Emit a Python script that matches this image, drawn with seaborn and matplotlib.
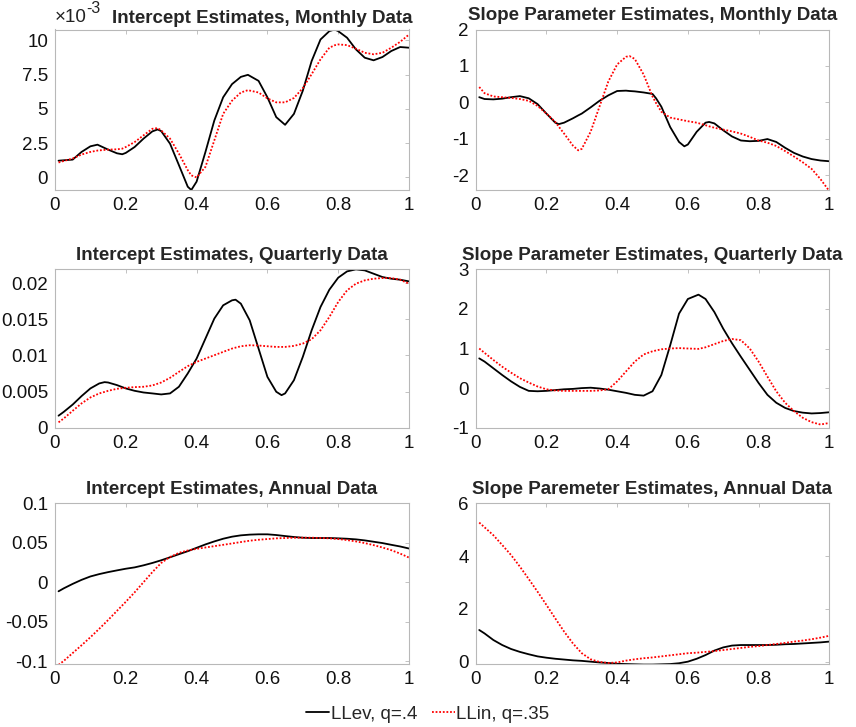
import numpy as np
import pandas as pd
import matplotlib
matplotlib.use("Agg")
import matplotlib.pyplot as plt
from matplotlib.ticker import FuncFormatter, FixedLocator
import seaborn as sns

# ---------------- data ----------------
grid = [0.01, 0.025, 0.05, 0.075, 0.1, 0.125, 0.15, 0.175, 0.2, 0.225, 0.25,
        0.275, 0.3, 0.325, 0.35, 0.375, 0.4, 0.425, 0.45, 0.475, 0.5, 0.525,
        0.55, 0.575, 0.6, 0.625, 0.65, 0.675, 0.7, 0.725, 0.75, 0.775, 0.8,
        0.825, 0.85, 0.875, 0.9, 0.925, 0.95, 0.975, 1.0]

# Intercept, monthly (units of 1e-3)
x_int_m = [0.01, 0.025, 0.05, 0.075, 0.1, 0.12, 0.15, 0.175, 0.19, 0.2, 0.225, 0.25,
           0.275, 0.29, 0.3, 0.325, 0.35, 0.375, 0.385, 0.4, 0.425, 0.45, 0.475, 0.5,
           0.525, 0.545, 0.575, 0.6, 0.625, 0.65, 0.675, 0.7, 0.725, 0.75, 0.775, 0.79,
           0.8, 0.825, 0.85, 0.875, 0.9, 0.925, 0.95, 0.975, 1.0]
llev_int_m = [1.22, 1.25, 1.3, 1.86, 2.27, 2.39, 2.03, 1.76, 1.69, 1.79, 2.22, 2.83,
              3.36, 3.5, 3.38, 2.46, 0.9, -0.68, -0.92, -0.31, 1.86, 4.15, 5.85, 6.81,
              7.34, 7.49, 7.05, 5.85, 4.4, 3.84, 4.64, 6.33, 8.5, 10.07, 10.68, 10.8,
              10.68, 10.2, 9.35, 8.74, 8.55, 8.79, 9.23, 9.52, 9.47]
llin_int_m = [1.09, 1.2, 1.38, 1.67, 1.86, 1.96, 2.03, 2.05, 2.1, 2.22, 2.58, 3.07,
              3.55, 3.6, 3.43, 2.83, 1.74, 0.53, 0.15, 0.0, 0.77, 2.7, 4.64, 5.6,
              6.2, 6.37, 6.2, 5.77, 5.48, 5.48, 5.8, 6.52, 7.54, 8.62, 9.47, 9.65,
              9.71, 9.66, 9.4, 9.1, 8.99, 9.1, 9.47, 9.9, 10.43]

# Slope, monthly
x_slp_m = [0.01, 0.025, 0.05, 0.075, 0.1, 0.125, 0.15, 0.175, 0.2, 0.225, 0.235, 0.25,
           0.275, 0.29, 0.3, 0.325, 0.35, 0.375, 0.4, 0.425, 0.435, 0.45, 0.475, 0.5,
           0.51, 0.525, 0.55, 0.575, 0.59, 0.6, 0.625, 0.65, 0.66, 0.675, 0.7, 0.725,
           0.75, 0.775, 0.8, 0.825, 0.85, 0.875, 0.9, 0.925, 0.95, 0.975, 1.0]
llev_slp_m = [0.14, 0.09, 0.08, 0.1, 0.14, 0.17, 0.11, -0.05, -0.31, -0.56, -0.6, -0.56,
              -0.44, -0.36, -0.31, -0.14, 0.04, 0.19, 0.31, 0.32, 0.31, 0.3, 0.27, 0.23,
              0.11, -0.12, -0.68, -1.09, -1.21, -1.16, -0.81, -0.56, -0.54, -0.58, -0.77, -0.94,
              -1.05, -1.07, -1.06, -1.01, -1.09, -1.25, -1.39, -1.49, -1.56, -1.6, -1.62]
llin_slp_m = [0.42, 0.25, 0.16, 0.14, 0.12, 0.09, 0.04, -0.1, -0.31, -0.54, -0.67, -0.86,
              -1.19, -1.32, -1.28, -0.81, -0.12, 0.57, 1.04, 1.25, 1.27, 1.19, 0.76, 0.16,
              -0.02, -0.26, -0.42, -0.47, -0.5, -0.52, -0.56, -0.63, -0.66, -0.7, -0.75, -0.8,
              -0.86, -0.95, -1.05, -1.11, -1.2, -1.34, -1.49, -1.65, -1.83, -2.11, -2.44]

# Intercept, quarterly
x_int_q = [0.01, 0.025, 0.05, 0.075, 0.1, 0.125, 0.14, 0.15, 0.175, 0.2, 0.225, 0.25,
           0.275, 0.3, 0.325, 0.35, 0.375, 0.4, 0.425, 0.45, 0.475, 0.5, 0.51, 0.525,
           0.55, 0.575, 0.6, 0.625, 0.64, 0.65, 0.675, 0.7, 0.725, 0.75, 0.775, 0.8,
           0.825, 0.85, 0.875, 0.9, 0.925, 0.95, 0.975, 1.0]
llev_int_q = [0.00166, 0.0022, 0.0032, 0.00437, 0.00543, 0.00612, 0.0063, 0.00625, 0.00589,
              0.00543, 0.0051, 0.00487, 0.00474, 0.0046, 0.00474, 0.00566, 0.0075, 0.00956,
              0.01232, 0.01508, 0.01692, 0.01761, 0.0177, 0.01715, 0.01485, 0.01094, 0.00703,
              0.00497, 0.0045, 0.00474, 0.00657, 0.00979, 0.01347, 0.01669, 0.01908, 0.02074,
              0.02161, 0.02189, 0.02175, 0.02129, 0.02083, 0.0206, 0.02046, 0.02023]
llin_int_q = [0.00074, 0.00129, 0.00234, 0.00336, 0.00418, 0.00474, 0.00495, 0.0051, 0.00538,
              0.00552, 0.00561, 0.00566, 0.00584, 0.00625, 0.0069, 0.00772, 0.00851, 0.0091,
              0.00956, 0.01002, 0.01048, 0.01094, 0.01107, 0.01126, 0.0114, 0.01136, 0.01126,
              0.01117, 0.01117, 0.01117, 0.01131, 0.01163, 0.01223, 0.01347, 0.01531, 0.01738,
              0.01899, 0.01991, 0.02037, 0.0206, 0.02069, 0.02069, 0.02046, 0.01991]

# Slope, quarterly
x_slp_q = [0.01, 0.025, 0.05, 0.075, 0.1, 0.125, 0.15, 0.175, 0.2, 0.225, 0.25, 0.275,
           0.3, 0.325, 0.35, 0.375, 0.4, 0.425, 0.45, 0.475, 0.5, 0.525, 0.55, 0.575,
           0.6, 0.63, 0.65, 0.675, 0.7, 0.725, 0.75, 0.775, 0.8, 0.825, 0.85, 0.875,
           0.9, 0.925, 0.95, 0.975, 1.0]
llev_slp_q = [0.75, 0.67, 0.5, 0.33, 0.17, 0.03, -0.07, -0.08, -0.07, -0.05, -0.03, -0.02,
              0.0, 0.01, -0.01, -0.04, -0.08, -0.12, -0.17, -0.19, -0.08, 0.33, 1.08, 1.88,
              2.25, 2.36, 2.25, 1.92, 1.5, 1.13, 0.79, 0.46, 0.13, -0.17, -0.37, -0.5,
              -0.58, -0.62, -0.64, -0.63, -0.61]
llin_slp_q = [1.0, 0.89, 0.71, 0.54, 0.39, 0.25, 0.14, 0.04, -0.03, -0.06, -0.07, -0.07,
              -0.07, -0.07, -0.06, -0.03, 0.17, 0.42, 0.67, 0.85, 0.93, 0.98, 1.0, 1.01,
              1.0, 0.99, 1.03, 1.11, 1.19, 1.24, 1.21, 1.0, 0.67, 0.29, -0.08, -0.37,
              -0.58, -0.75, -0.86, -0.92, -0.88]

# Intercept, annual
x_int_a = grid
llev_int_a = [-0.0115, -0.0077, -0.0021, 0.003, 0.0073, 0.0103, 0.0128, 0.015, 0.0171,
              0.0188, 0.0214, 0.0244, 0.0278, 0.0316, 0.0355, 0.0393, 0.0436, 0.0479,
              0.0517, 0.0551, 0.0577, 0.0594, 0.0603, 0.0607, 0.0607, 0.0598, 0.0585,
              0.0573, 0.0564, 0.056, 0.056, 0.056, 0.0556, 0.0551, 0.0543, 0.053, 0.0513,
              0.0496, 0.0474, 0.0453, 0.0427]
llin_int_a = [-0.1047, -0.0996, -0.0897, -0.0799, -0.0697, -0.059, -0.0479, -0.0363,
              -0.0248, -0.0128, 0.0, 0.0128, 0.0244, 0.032, 0.0372, 0.0402, 0.0423, 0.044,
              0.0457, 0.0474, 0.0491, 0.0509, 0.0526, 0.0538, 0.0547, 0.0556, 0.056,
              0.0564, 0.0564, 0.0564, 0.056, 0.0556, 0.0547, 0.0534, 0.0517, 0.0496, 0.047,
              0.044, 0.0406, 0.0363, 0.0312]

# Slope, annual
x_slp_a = grid
llev_slp_a = [1.2, 1.07, 0.82, 0.63, 0.48, 0.37, 0.28, 0.2, 0.15, 0.11, 0.08, 0.05, 0.03,
              0.0, -0.03, -0.05, -0.08, -0.09, -0.1, -0.11, -0.11, -0.1, -0.09, -0.06, 0.0,
              0.11, 0.25, 0.42, 0.54, 0.61, 0.63, 0.63, 0.63, 0.63, 0.64, 0.66, 0.67, 0.69,
              0.71, 0.73, 0.76]
llin_slp_a = [5.27, 5.09, 4.79, 4.42, 4.04, 3.6, 3.13, 2.65, 2.15, 1.64, 1.14, 0.69, 0.32,
              0.09, -0.01, -0.05, -0.03, 0.04, 0.09, 0.13, 0.16, 0.2, 0.24, 0.28, 0.32, 0.34,
              0.37, 0.4, 0.44, 0.48, 0.52, 0.56, 0.59, 0.63, 0.67, 0.71, 0.76, 0.8, 0.85,
              0.91, 0.98]

series_labels = ["LLev, q=.4", "LLin, q=.35"]
titles = ["Intercept Estimates, Monthly Data", "Slope Parameter Estimates, Monthly Data",
          "Intercept Estimates, Quarterly Data", "Slope Parameter Estimates, Quarterly Data",
          "Intercept Estimates, Annual Data", "Slope Paremeter Estimates, Annual Data"]
xticks = [0, 0.2, 0.4, 0.6, 0.8, 1]
yticks = [[0, 2.5, 5, 7.5, 10], [-2, -1, 0, 1, 2],
          [0, 0.005, 0.01, 0.015, 0.02], [-1, 0, 1, 2, 3],
          [-0.1, -0.05, 0, 0.05, 0.1], [0, 2, 4, 6]]
ylims = [(-0.92, 10.8), (-2.41, 2.0), (0, 0.0219), (-1, 3), (-0.104, 0.1), (-0.1, 6)]

panels = [(x_int_m, llev_int_m, llin_int_m), (x_slp_m, llev_slp_m, llin_slp_m),
          (x_int_q, llev_int_q, llin_int_q), (x_slp_q, llev_slp_q, llin_slp_q),
          (x_int_a, llev_int_a, llin_int_a), (x_slp_a, llev_slp_a, llin_slp_a)]

# ---------------- style ----------------
sns.set_style("white")
plt.rcParams["font.family"] = ["Liberation Sans", "DejaVu Sans"]
plt.rcParams["axes.unicode_minus"] = False

edge = "#b8b8b8"
fig = plt.figure(figsize=(8.56, 7.27), dpi=100)

col_left = [55 / 856, 475.7 / 856]
col_w = [354 / 856, 353.6 / 856]
rows = [(1 - 190 / 727, 160.5 / 727), (1 - 427.7 / 727, 158.4 / 727), (1 - 664.3 / 727, 161 / 727)]

fmt = FuncFormatter(lambda v, p: f"{v:g}")
handles = None
for i, ((xs, ev, lin), title) in enumerate(zip(panels, titles)):
    r, c = divmod(i, 2)
    ax = fig.add_axes([col_left[c], rows[r][0], col_w[c], rows[r][1]])
    df = pd.DataFrame({"x": list(xs) * 2, "y": list(ev) + list(lin),
                       "model": [series_labels[0]] * len(xs) + [series_labels[1]] * len(xs)})
    sns.lineplot(data=df, x="x", y="y", hue="model", style="model",
                 palette={series_labels[0]: "black", series_labels[1]: "#ff0000"},
                 dashes={series_labels[0]: "", series_labels[1]: (1, 1)},
                 linewidth=1.3, sort=False, ax=ax, legend=(i == 0))
    if i == 0:
        handles, labels = ax.get_legend_handles_labels()
        ax.get_legend().remove()
    ax.set_xlim(0, 1)
    ax.set_ylim(*ylims[i])
    ax.xaxis.set_major_locator(FixedLocator(xticks))
    ax.yaxis.set_major_locator(FixedLocator(yticks[i]))
    ax.xaxis.set_major_formatter(fmt)
    ax.yaxis.set_major_formatter(fmt)
    ax.set_xlabel("")
    ax.set_ylabel("")
    for s in ax.spines.values():
        s.set_color(edge)
        s.set_linewidth(0.8)
    ax.tick_params(direction="in", length=3, width=0.6, color=edge, labelsize=13.5,
                   labelcolor="#111111", top=True, right=True, pad=5)
    if i == 0:
        ax.set_title(title, fontsize=13.5, fontweight="bold", pad=5, x=0.585)
        ax.text(0.0, 1.02, "\u00d710", transform=ax.transAxes, fontsize=13.5,
                color="#222222", ha="left", va="bottom")
        ax.text(0.088, 1.085, "-3", transform=ax.transAxes, fontsize=11.5,
                color="#222222", ha="left", va="bottom")
    else:
        ax.set_title(title, fontsize=13.5, fontweight="bold", pad=7)

fig.legend(handles, series_labels, loc="center", bbox_to_anchor=(0.5, 1 - 714 / 727),
           ncol=2, frameon=False, fontsize=13.5, handlelength=1.2, handletextpad=0.1,
           columnspacing=0.8)

fig.savefig("out.png", dpi=100)
